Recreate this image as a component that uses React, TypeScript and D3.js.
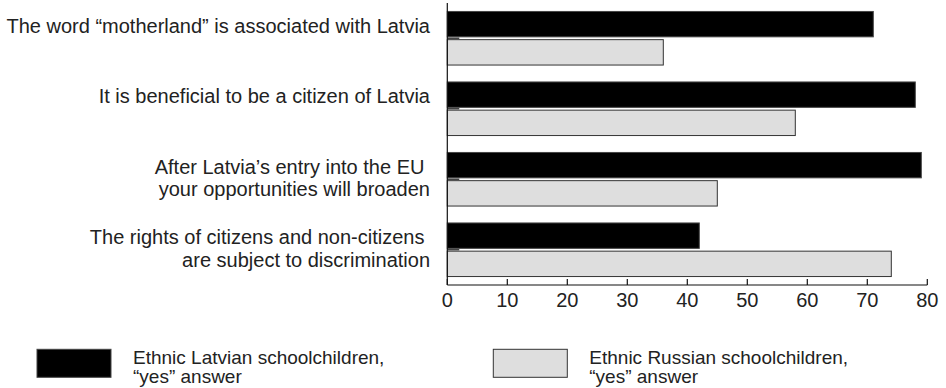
import React from "react";
import * as d3 from "d3";

// Survey statements (one entry per line of the label)
const statements: string[][] = [
  ["The word \u201cmotherland\u201d is associated with Latvia"],
  ["It is beneficial to be a citizen of Latvia"],
  ["After Latvia\u2019s entry into the EU ", "your opportunities will broaden"],
  ["The rights of citizens and non-citizens ", "are subject to discrimination"],
];

// Share of "yes" answers, %
const latvianYes: number[] = [71, 78, 79, 42];
const russianYes: number[] = [36, 58, 45, 74];

const seriesNames: string[] = ["latvian", "russian"];
const legendLines: string[][] = [
  ["Ethnic Latvian schoolchildren,", "\u201cyes\u201d answer"],
  ["Ethnic Russian schoolchildren,", "\u201cyes\u201d answer"],
];
const xTicks: number[] = [0, 10, 20, 30, 40, 50, 60, 70, 80];

const W = 946;
const H = 388;
const FONT = "'Liberation Sans', Arial, Helvetica, sans-serif";
const TEXT = "#222";
const FILLS = ["#000000", "#dedede"];
const STROKES = ["#444444", "#333333"];

export default function App() {
  const left = 447.3;
  const right = 927.3;
  const top = 3;
  const axisY = 285;

  const x = d3.scaleLinear().domain([0, 80]).range([left, right]);
  const y = d3
    .scaleBand<number>()
    .domain(d3.range(statements.length))
    .range([top, axisY])
    .paddingInner(0.24)
    .paddingOuter(0.12);
  const inner = d3
    .scaleBand<string>()
    .domain(seriesNames)
    .range([0, y.bandwidth()])
    .paddingInner(0.1);

  const values = [latvianYes, russianYes];

  return (
    <svg
      width={W}
      height={H}
      style={{ position: "absolute", left: 0, top: 0, background: "#fff" }}
      fontFamily={FONT}
    >
      {/* bars */}
      {statements.map((_, i) => (
        <g key={i} transform={`translate(0,${y(i)})`}>
          {seriesNames.map((s, k) => (
            <rect
              key={s}
              x={x(0)}
              y={inner(s)}
              width={x(values[k][i]) - x(0)}
              height={inner.bandwidth()}
              fill={FILLS[k]}
              stroke={STROKES[k]}
              strokeWidth={1}
            />
          ))}
          {/* category tick */}
          <line
            x1={x(0)}
            x2={x(0) + 12}
            y1={y.bandwidth() / 2}
            y2={y.bandwidth() / 2}
            stroke="#444"
            strokeWidth={1.5}
          />
        </g>
      ))}

      {/* category labels */}
      {statements.map((lines, i) => (
        <text
          key={i}
          x={430}
          y={(y(i) as number) + 21.5}
          textAnchor="end"
          fontSize={20}
          fill={TEXT}
          style={{ whiteSpace: "pre" }}
        >
          {lines.map((ln, j) => (
            <tspan key={j} x={430} dy={j === 0 ? 0 : 22.5}>
              {ln}
            </tspan>
          ))}
        </text>
      ))}

      {/* value axis */}
      <line x1={left} x2={left} y1={top} y2={axisY} stroke="#111" strokeWidth={1.2} />
      <line x1={left} x2={right} y1={axisY} y2={axisY} stroke="#111" strokeWidth={1.2} />
      {xTicks.map((t) => (
        <g key={t}>
          <line x1={x(t)} x2={x(t)} y1={axisY - 6} y2={axisY} stroke="#111" strokeWidth={1.2} />
          <text x={x(t)} y={307} textAnchor="middle" fontSize={20} fill={TEXT}>
            {t}
          </text>
        </g>
      ))}

      {/* legend */}
      {legendLines.map((lines, k) => {
        const sx = k === 0 ? 37 : 493.3;
        return (
          <g key={k}>
            <rect
              x={sx}
              y={349.3}
              width={74}
              height={28}
              fill={FILLS[k]}
              stroke={STROKES[k]}
              strokeWidth={1}
            />
            {lines.map((ln, j) => (
              <text key={j} x={sx + 96} y={364 + j * 19} fontSize={19} fill={TEXT}>
                {ln}
              </text>
            ))}
          </g>
        );
      })}
    </svg>
  );
}
